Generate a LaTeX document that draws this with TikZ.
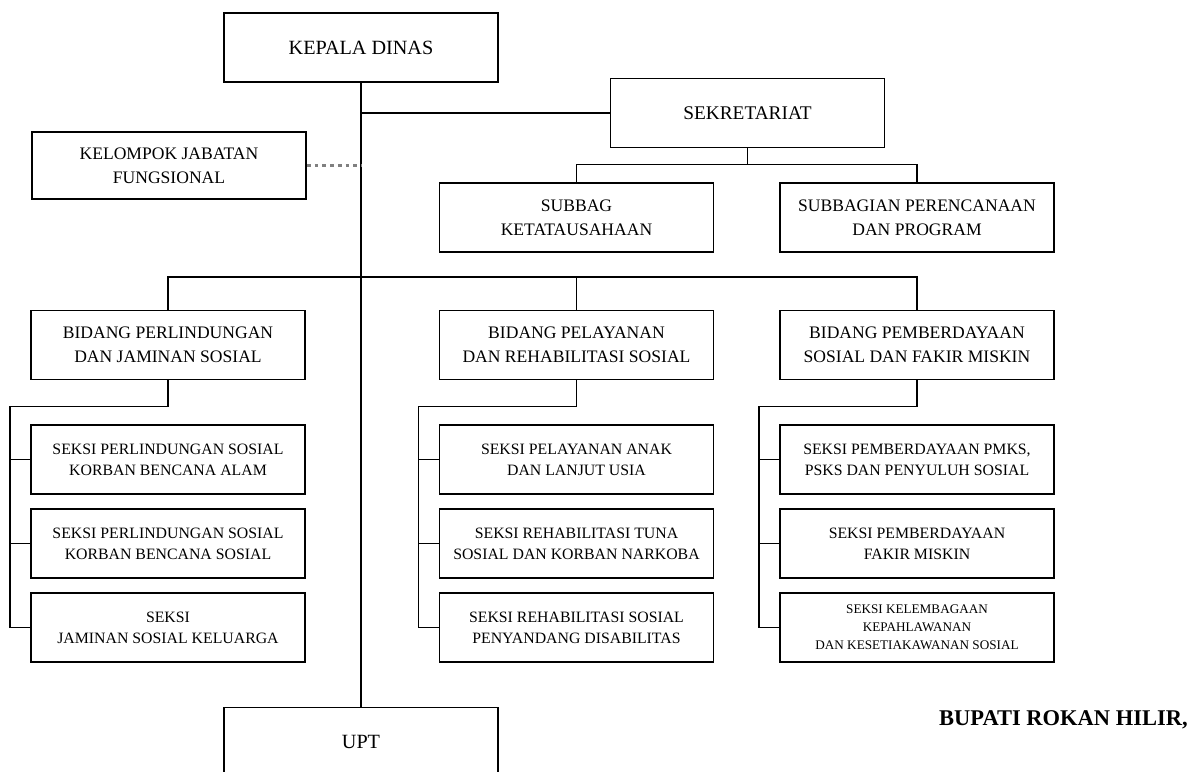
\documentclass[tikz,border=0pt]{standalone}
\usepackage{fontspec}
\setmainfont{Liberation Serif}

\begin{document}
\begin{tikzpicture}[x=0.02cm,y=-0.02cm,
  box/.style={draw,line width=1pt,minimum width=5.48cm,minimum height=1.38cm,
    align=center,inner sep=2pt,font=\fontsize{10}{13.6}\selectfont},
  sek/.style={box,font=\fontsize{9}{11.9}\selectfont},
  link/.style={line width=0.8pt}]
  \useasboundingbox (0,0) rectangle (1197,771);
  % pimpinan dan sekretariat
  \node[box,font=\fontsize{11.5}{14}\selectfont] (kadis) at (361,47.5) {KEPALA DINAS};
  \node[box,font=\fontsize{11}{14}\selectfont] (sekre) at (747.5,113) {SEKRETARIAT};
  \node[box,minimum height=1.34cm] (jafung) at (169,165.5) {KELOMPOK JABATAN\\FUNGSIONAL};
  \node[box] (tu) at (576.5,217.5) {SUBBAG\\KETATAUSAHAAN};
  \node[box] (prog) at (917,217.5) {SUBBAGIAN PERENCANAAN\\DAN PROGRAM};
  % bidang
  \node[box] (linjam) at (168,345) {BIDANG PERLINDUNGAN\\DAN JAMINAN SOSIAL};
  \node[box] (yanrehab) at (576.5,345) {BIDANG PELAYANAN\\DAN REHABILITASI SOSIAL};
  \node[box] (dayafm) at (917,345) {BIDANG PEMBERDAYAAN\\SOSIAL DAN FAKIR MISKIN};
  % seksi
  \node[sek] (linjam1) at (168,459.5) {SEKSI PERLINDUNGAN SOSIAL\\KORBAN BENCANA ALAM};
  \node[sek] (linjam2) at (168,543.5) {SEKSI PERLINDUNGAN SOSIAL\\KORBAN BENCANA SOSIAL};
  \node[sek] (linjam3) at (168,627.5) {SEKSI\\JAMINAN SOSIAL KELUARGA};
  \node[sek] (yanrehab1) at (576.5,459.5) {SEKSI PELAYANAN ANAK\\DAN LANJUT USIA};
  \node[sek] (yanrehab2) at (576.5,543.5) {SEKSI REHABILITASI TUNA\\SOSIAL DAN KORBAN NARKOBA};
  \node[sek] (yanrehab3) at (576.5,627.5) {SEKSI REHABILITASI SOSIAL\\PENYANDANG DISABILITAS};
  \node[sek] (dayafm1) at (917,459.5) {SEKSI PEMBERDAYAAN PMKS,\\PSKS DAN PENYULUH SOSIAL};
  \node[sek] (dayafm2) at (917,543.5) {SEKSI PEMBERDAYAAN\\FAKIR MISKIN};
  \node[sek,font=\fontsize{7.5}{10.2}\selectfont] (dayafm3) at (917,627.5)
    {SEKSI KELEMBAGAAN\\KEPAHLAWANAN\\DAN KESETIAKAWANAN SOSIAL};
  \node[box,font=\fontsize{11.5}{14}\selectfont] (upt) at (361,742) {UPT};
  \node[anchor=east,inner sep=0pt,font=\bfseries\fontsize{12.8}{15}\selectfont] (bupati)
    at (1188,720) {BUPATI ROKAN HILIR,};
  % garis komando
  \draw[link] (kadis.south) -- (upt.north);
  \draw[link] (kadis.south |- sekre.west) -- (sekre.west);
  \draw[line width=1.2pt,gray,dash pattern=on 2.2pt off 2.2pt] (jafung.east) -- (jafung.east -| kadis.south);
  \draw[link] (sekre.south) -- ++(0,16) coordinate (sekj);
  \draw[link] (tu.north) |- (sekj) -| (prog.north);
  \coordinate (bidj) at (361,277);
  \draw[link] (linjam.north) |- (bidj) -| (dayafm.north);
  \draw[link] (yanrehab.north) -- (yanrehab.north |- bidj);
  \foreach \b in {linjam,yanrehab,dayafm} {
    \draw[link] (\b.south) -- ++(0,26) -| ([xshift=-0.4cm]\b3.west) -- (\b3.west);
    \draw[link] ([xshift=-0.4cm]\b1.west) -- (\b1.west);
    \draw[link] ([xshift=-0.4cm]\b2.west) -- (\b2.west);
  }
\end{tikzpicture}
\end{document}
